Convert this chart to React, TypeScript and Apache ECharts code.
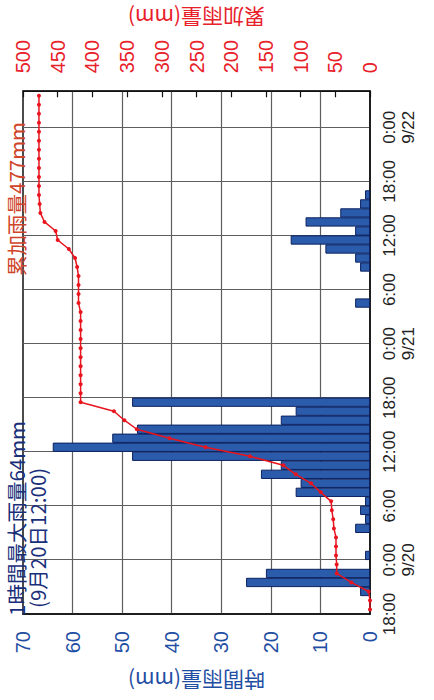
import React, { useEffect, useRef } from 'react';
import * as echarts from 'echarts';

// Hourly rainfall (mm), one value per hour starting 18:00 9/19
const hourlyRain = [
  0, 0, 2, 25, 21, 0, 1, 0, 0, 3, 1, 2, 1, 15, 14, 22, 18, 48, 64, 52, 47, 18, 15, 48,
  0, 0, 0, 0, 0, 0, 0, 0, 0, 0, 3, 0, 0, 0, 2, 3, 9, 16, 3, 13, 6, 2, 1, 0,
  0, 0, 0, 0, 0, 0, 0, 0, 0, 0,
];

// Cumulative rainfall (mm) at each hour
const cumulativeRain = [
  0, 0, 2, 27, 48, 48, 49, 49, 49, 52, 53, 55, 56, 71, 85, 107, 125, 173, 237, 289, 336, 354, 369, 417,
  417, 417, 417, 417, 417, 417, 417, 417, 417, 417, 420, 420, 420, 420, 422, 425, 434, 450, 453, 469, 475, 476, 477, 477,
  477, 477, 477, 477, 477, 477, 477, 477, 477, 477,
];

const timeTickLabels = [
  '18:00', '0:00\n9/20', '6:00', '12:00', '18:00', '0:00\n9/21', '6:00', '12:00', '18:00', '0:00\n9/22',
];

const hourlyAxisName = '時間雨量(mm)';
const cumulativeAxisName = '累加雨量(mm)';
const maxNote1 = '1時間最大雨量64mm';
const maxNote2 = '(9月20日12:00)';
const totalNote = '累加雨量477mm';

const BLUE_TEXT = '#1f4ea3';
const RED_TEXT = '#e8202a';
const GRID = '#5e5e5e';
const FONT = '"Liberation Sans", "Noto Sans CJK JP", sans-serif';
const CJK = '"Noto Sans CJK JP", sans-serif';

export default function App() {
  const ref = useRef<HTMLDivElement>(null);

  useEffect(() => {
    document.body.style.margin = '0';
    const chart = echarts.init(ref.current as HTMLDivElement, null, { renderer: 'svg' });
    const spanHours = hourlyRain.length;
    const barData = hourlyRain
      .map((v, i) => [i + 0.5, v])
      .filter((d) => d[1] > 0);
    const lineData = cumulativeRain.map((v, i) => [i + 0.5, v]);

    chart.setOption({
      animation: false,
      backgroundColor: '#ffffff',
      textStyle: { fontFamily: FONT },
      grid: {
        left: 81,
        right: 80,
        top: 23,
        bottom: 64,
        show: true,
        borderColor: '#111',
        borderWidth: 1.5,
      },
      xAxis: {
        type: 'value',
        min: 0,
        max: spanHours,
        interval: 6,
        axisLine: { show: true, onZero: false, lineStyle: { color: '#111', width: 1.5 } },
        axisTick: { show: false },
        axisLabel: {
          color: '#222',
          fontSize: 17,
          lineHeight: 19,
          margin: 10,
          fontFamily: FONT,
          formatter: (v: number) => (v % 6 === 0 && timeTickLabels[v / 6]) || '',
        },
        splitLine: {
          show: true,
          showMinLine: false,
          showMaxLine: false,
          lineStyle: { color: GRID, width: 1.2 },
        },
      },
      yAxis: [
        {
          type: 'value',
          min: 0,
          max: 70,
          interval: 10,
          position: 'left',
          name: hourlyAxisName,
          nameLocation: 'middle',
          nameRotate: 90,
          nameGap: 57,
          nameTextStyle: { color: BLUE_TEXT, fontSize: 21, fontFamily: CJK },
          axisLine: { show: true, onZero: false, lineStyle: { color: '#111', width: 1.5 } },
          axisTick: { show: false },
          axisLabel: { color: BLUE_TEXT, fontSize: 20, margin: 17, fontFamily: FONT },
          splitLine: {
            show: true,
            showMinLine: false,
            showMaxLine: false,
            lineStyle: { color: GRID, width: 1.2 },
          },
        },
        {
          type: 'value',
          min: 0,
          max: 500,
          interval: 50,
          position: 'right',
          name: cumulativeAxisName,
          nameLocation: 'middle',
          nameRotate: 90,
          nameGap: 61,
          nameTextStyle: { color: RED_TEXT, fontSize: 21, fontFamily: CJK },
          axisLine: { show: true, onZero: false, lineStyle: { color: '#111', width: 1.5 } },
          axisTick: { show: true, inside: true, length: 6, lineStyle: { color: '#111', width: 1.2 } },
          axisLabel: { color: RED_TEXT, fontSize: 20, margin: 18, fontFamily: FONT },
          splitLine: { show: false },
        },
      ],
      series: [
        {
          type: 'bar',
          xAxisIndex: 0,
          yAxisIndex: 0,
          data: barData,
          barWidth: 9.3,
          itemStyle: { color: '#2b5bab', borderColor: '#0d2260', borderWidth: 1 },
          z: 3,
        },
        {
          type: 'line',
          xAxisIndex: 0,
          yAxisIndex: 1,
          data: lineData,
          symbol: 'circle',
          symbolSize: 4,
          showSymbol: true,
          lineStyle: { color: '#e8141e', width: 1.5 },
          itemStyle: { color: '#e8141e' },
          z: 5,
        },
      ],
      graphic: [
        {
          type: 'text',
          x: 84,
          y: 16,
          z: 10,
          style: {
            text: maxNote1,
            fill: '#1a2f7a',
            fontSize: 20.5,
            fontFamily: CJK,
            align: 'left',
            verticalAlign: 'middle',
          },
        },
        {
          type: 'text',
          x: 92,
          y: 37,
          z: 10,
          style: {
            text: maxNote2,
            fill: '#1a2f7a',
            fontSize: 20.5,
            fontFamily: CJK,
            align: 'left',
            verticalAlign: 'middle',
          },
        },
        {
          type: 'text',
          x: 424,
          y: 16,
          z: 10,
          style: {
            text: totalNote,
            fill: '#d0442a',
            fontSize: 20.5,
            fontFamily: CJK,
            align: 'left',
            verticalAlign: 'middle',
          },
        },
      ],
    });

    return () => chart.dispose();
  }, []);

  return (
    <div
      style={{
        position: 'fixed',
        left: 0,
        top: 0,
        width: 434,
        height: 700,
        overflow: 'hidden',
        background: '#fff',
      }}
    >
      <div
        ref={ref}
        style={{
          position: 'absolute',
          left: 0,
          top: 0,
          width: 700,
          height: 434,
          transformOrigin: '0 0',
          transform: 'rotate(-90deg) translate(-700px, 0)',
        }}
      />
    </div>
  );
}
